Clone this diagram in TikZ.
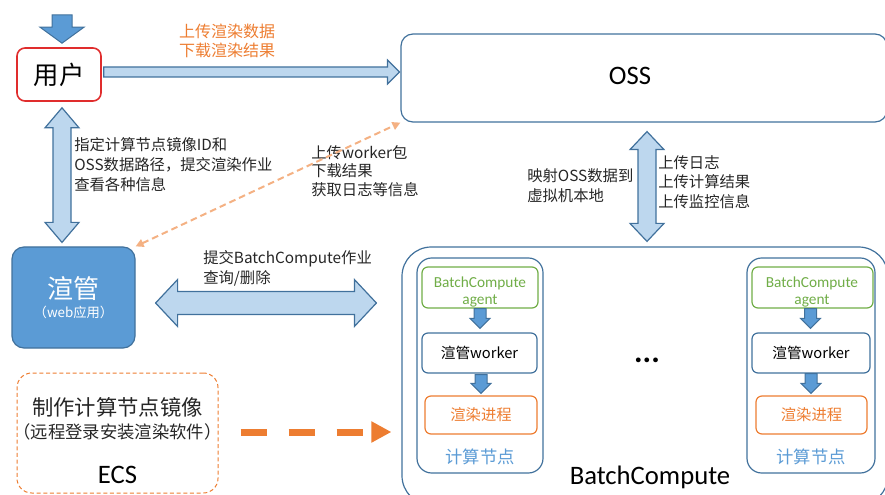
\documentclass[tikz,border=0pt]{standalone}
\usepackage{fontspec}
\setmainfont{Noto Sans CJK SC}
\newfontfamily\calibri{Carlito}
\usetikzlibrary{calc,arrows.meta}

\definecolor{lineblue}{RGB}{65,113,156}
\definecolor{fillblue}{RGB}{91,155,213}
\definecolor{lightblue}{RGB}{189,215,238}
\definecolor{userred}{RGB}{224,45,45}
\definecolor{orangec}{RGB}{237,125,49}
\definecolor{lightorange}{RGB}{244,177,131}
\definecolor{greenc}{RGB}{112,173,71}
\definecolor{textgray}{RGB}{38,38,38}

\tikzset{
  box/.style={draw=lineblue, line width=0.9pt, rounded corners=9pt, inner sep=0pt},
  userbox/.style={box, draw=userred, line width=1.2pt, rounded corners=6pt},
  appbox/.style={box, fill=fillblue, text=white, align=center},
  ecsbox/.style={box, draw=orangec, line width=0.75pt, dash pattern=on 3pt off 2pt, rounded corners=11pt},
  nodebox/.style={box, rounded corners=11pt},
  agentbox/.style={box, draw=greenc, rounded corners=4.5pt},
  workerbox/.style={box, rounded corners=4.5pt, font=\fontsize{11}{13}\selectfont},
  renderbox/.style={box, draw=orangec, rounded corners=4.5pt, text=orangec, font=\fontsize{11.5}{13}\selectfont},
  note/.style={text=textgray, font=\fontsize{11.5}{15}\selectfont, align=left, inner sep=0pt, anchor=west},
  agenttxt/.style={font=\calibri\fontsize{11.5}{13}\selectfont, text=greenc, align=center, inner sep=0pt},
  cntxt/.style={font=\fontsize{13}{15}\selectfont, text=fillblue, inner sep=0pt},
  bigtxt/.style={font=\calibri\fontsize{20}{24}\selectfont, inner sep=0pt},
  fatlight/.style={draw=lineblue, fill=lightblue, line width=0.9pt},
  fatdark/.style={draw=lineblue, fill=fillblue, line width=0.75pt},
  sync/.style={draw=lightorange, line width=1.5pt, dash pattern=on 5pt off 3pt,
    {Triangle[length=6pt,width=6pt]}-{Triangle[length=6pt,width=6pt]}},
  deploy/.style={draw=orangec, line width=5.25pt, dash pattern=on 20pt off 16pt,
    -{Triangle[length=15pt,width=15pt]}}
}

% block arrows: #2 tail, #3 tip, #4 half shaft, #5 half head, #6 head length
\newcommand{\fatone}[6][fatlight]{%
  \draw[#1] ($(#2)!#4!90:(#3)$) -- ($(#3)!#6!(#2)!#4!-90:(#2)$) -- ($(#3)!#6!(#2)!#5!-90:(#2)$) -- (#3)
    -- ($(#3)!#6!(#2)!#5!90:(#2)$) -- ($(#3)!#6!(#2)!#4!90:(#2)$) -- ($(#2)!#4!-90:(#3)$) -- cycle;}
\newcommand{\fattwo}[6][fatlight]{%
  \draw[#1] (#2) -- ($(#2)!#6!(#3)!#5!90:(#3)$) -- ($(#2)!#6!(#3)!#4!90:(#3)$) -- ($(#3)!#6!(#2)!#4!-90:(#2)$)
    -- ($(#3)!#6!(#2)!#5!-90:(#2)$) -- (#3) -- ($(#3)!#6!(#2)!#5!90:(#2)$) -- ($(#3)!#6!(#2)!#4!90:(#2)$)
    -- ($(#2)!#6!(#3)!#4!-90:(#3)$) -- ($(#2)!#6!(#3)!#5!-90:(#3)$) -- cycle;}

\begin{document}
\begin{tikzpicture}[x=0.75pt,y=0.75pt,yscale=-1,xscale=1]
\useasboundingbox (0,0) rectangle (885,495);

%Rounded Rect: user
\node[userbox, minimum width=63pt, minimum height=39.75pt, font=\fontsize{19}{22}\selectfont] (user) at (59,74.5) {用户};
%Rounded Rect: OSS
\node[box, minimum width=364.5pt, minimum height=66pt] (oss) at (644,78) {};
\node[bigtxt] (osstxt) at (630,76) {OSS};
%Rounded Rect: render manager
\node[appbox, minimum width=92.25pt, minimum height=75.75pt] (xg) at (73.5,297.5)
  {{\fontsize{19.5}{22}\selectfont 渲管}\\[2pt]{\fontsize{10}{12}\selectfont （web应用）}};
%Rounded Rect: ECS
\node[ecsbox, minimum width=150.75pt, minimum height=90pt] (ecs) at (117.5,433) {};
\node[text=textgray, font=\fontsize{16}{19}\selectfont, inner sep=0pt] (ecsl1) at (117.5,407) {制作计算节点镜像};
\node[text=textgray, font=\fontsize{13}{16}\selectfont, inner sep=0pt] (ecsl2) at (117.5,432) {（远程登录安装渲染软件）};
\node[bigtxt] (ecsl3) at (117.5,475) {ECS};
%Rounded Rect: BatchCompute
\node[box, rounded corners=22pt, minimum width=364.5pt, minimum height=193.5pt] (batch) at (645,376) {};
\node[bigtxt] (bctxt) at (650,477) {BatchCompute};

%Rounded Rect: compute node 1
\node[nodebox, minimum width=94.5pt, minimum height=161.25pt] (cn1) at (480,365.5) {};
\node[agentbox, minimum width=87pt, minimum height=30.75pt] (agent1) at (480,287.5) {};
\node[agenttxt] (agent1txt) at (480,292) {BatchCompute\\agent};
\node[workerbox, minimum width=86.25pt, minimum height=30pt] (worker1) at (479.5,353) {渲管worker};
\node[renderbox, minimum width=84pt, minimum height=28.5pt] (render1) at (481,415) {渲染进程};
\node[cntxt] (cn1txt) at (480,457) {计算节点};
%Rounded Rect: compute node 2
\node[nodebox, minimum width=96pt, minimum height=161.25pt] (cn2) at (811,365.5) {};
\node[agentbox, minimum width=90.75pt, minimum height=30.75pt] (agent2) at (812.5,287.5) {};
\node[agenttxt] (agent2txt) at (812,292) {BatchCompute\\agent};
\node[workerbox, minimum width=88.5pt, minimum height=30pt] (worker2) at (811,353) {渲管worker};
\node[renderbox, minimum width=83.25pt, minimum height=28.5pt] (render2) at (811.5,415) {渲染进程};
\node[cntxt] (cn2txt) at (811,457) {计算节点};
\node[font=\calibri\bfseries\fontsize{24}{24}\selectfont, inner sep=0pt] (dots) at (647,360) {...};

%Texts
\node[note, anchor=center, align=center, text=orangec, font=\fontsize{12}{14.5}\selectfont] (uptxt) at (227,41) {上传渲染数据\\下载渲染结果};
\node[note] (jobtxt) at (74,165) {指定计算节点镜像ID和\\OSS数据路径，提交渲染作业\\查看各种信息};
\node[note, font=\fontsize{11.5}{14}\selectfont] (pkgtxt) at (311,171) {上传worker包\\下载结果\\获取日志等信息};
\node[note] (maptxt) at (527,186) {映射OSS数据到\\虚拟机本地};
\node[note, font=\fontsize{11.5}{14.5}\selectfont] (logtxt) at (658,182) {上传日志\\上传计算结果\\上传监控信息};
\node[note] (subtxt) at (203,268) {提交BatchCompute作业\\查询/删除};

%Arrow ends
\coordinate (entry) at (62,15);
\coordinate (uin) at ($(user.north)+(3,-4)$);
\coordinate (uout) at ($(user.east)+(2,-2.5)$);
\coordinate (ossin) at ($(user.east -| oss.west)+(-1,-2.5)$);
\coordinate (ubot) at ($(user.south)+(3,6)$);
\coordinate (xgtop) at ($(user.south |- xg.north)+(3,-4)$);
\coordinate (ossbot) at ($(oss.south)+(3,9)$);
\coordinate (bctop) at ($(oss.south |- batch.north)+(3,-5)$);
\coordinate (xgright) at ($(xg.east)+(20,5.5)$);
\coordinate (bcleft) at ($(xg.east -| batch.west)+(-25,5.5)$);
\coordinate (a1) at (agent1.south);
\coordinate (w1in) at ($(agent1.south |- worker1.north)+(0,-4)$);
\coordinate (w1out) at ($(worker1.south)+(1.5,1)$);
\coordinate (r1in) at ($(worker1.south |- render1.north)+(1.5,-2)$);
\coordinate (a2) at ($(agent2.south)+(-2,0)$);
\coordinate (w2in) at ($(agent2.south |- worker2.north)+(-2,-4)$);
\coordinate (w2out) at (worker2.south);
\coordinate (r2in) at ($(worker2.south |- render2.north)+(0,-2)$);

%Shape: Down Arrow
\fatone[fatdark]{entry}{uin}{7.5pt}{16.5pt}{12pt}
%Shape: Right Arrow
\fatone{uout}{ossin}{3.75pt}{9pt}{9pt}
%Shape: Up Down Arrow
\fattwo{ubot}{xgtop}{6.75pt}{12.75pt}{15pt}
\fattwo{ossbot}{bctop}{6.75pt}{12.75pt}{13.5pt}
%Shape: Left Right Arrow
\fattwo{xgright}{bcleft}{8.6pt}{17.6pt}{16.5pt}
%Shape: small Down Arrows
\fatone[fatdark]{a1}{w1in}{4.5pt}{7.5pt}{7.5pt}
\fatone[fatdark]{w1out}{r1in}{4.5pt}{7.5pt}{7.5pt}
\fatone[fatdark]{a2}{w2in}{4.5pt}{7.5pt}{7.5pt}
\fatone[fatdark]{w2out}{r2in}{4.5pt}{7.5pt}{7.5pt}

%Straight Lines: dashed
\draw[sync] (xg.north east) -- (oss.south west);
\draw[deploy] ($(ecs.east)+(22,-1)$) -- ($(ecs.east -| batch.west)+(-10,-1)$);

\end{tikzpicture}
\end{document}
